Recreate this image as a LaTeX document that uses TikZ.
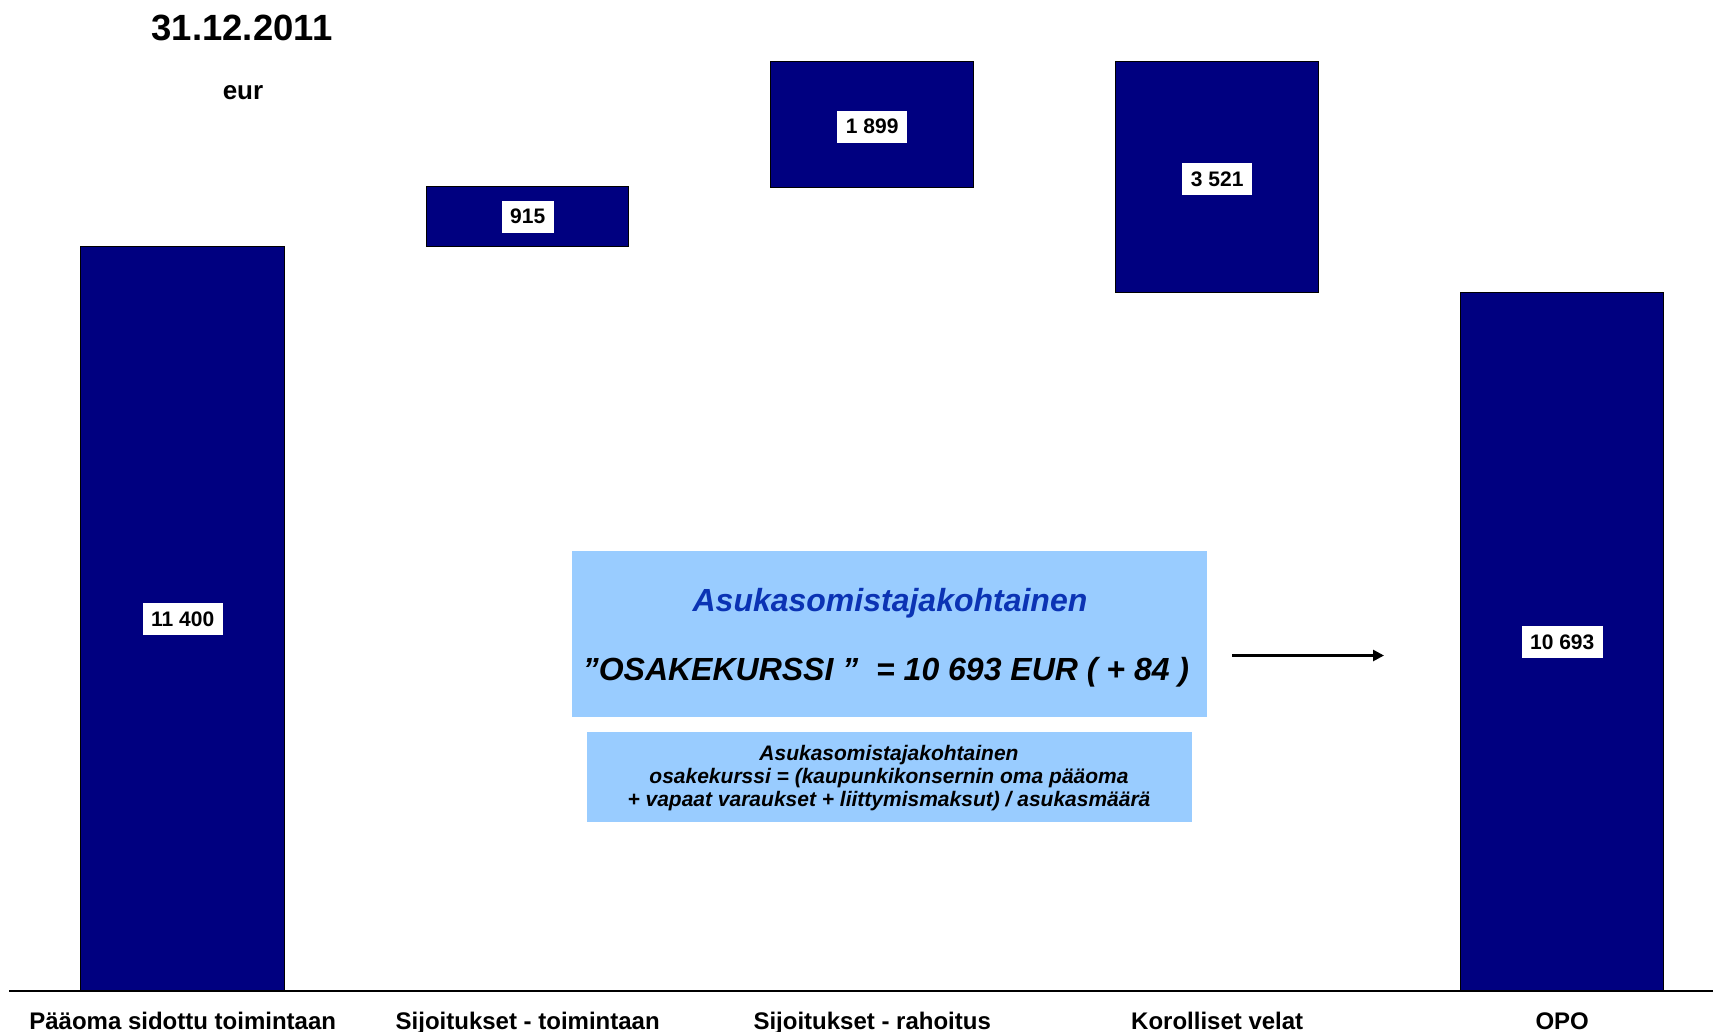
\documentclass[tikz,border=0pt]{standalone}
\usepackage{fontspec}
\setmainfont{Liberation Sans}
\usetikzlibrary{arrows.meta}
\definecolor{barblue}{HTML}{000080}
\definecolor{boxblue}{HTML}{99CCFF}
\definecolor{headblue}{HTML}{0B33B4}
\begin{document}
\begin{tikzpicture}[x=1pt,y=-1pt,
  bar/.style={draw=black, line width=1.4pt, fill=barblue, inner sep=0pt, anchor=north west},
  val/.style={fill=white, inner xsep=8.5pt, inner ysep=0pt, minimum height=32pt,
    font=\fontsize{21}{21}\bfseries\selectfont},
  cat/.style={anchor=base, font=\fontsize{24}{24}\bfseries\selectfont},
  infobox/.style={fill=boxblue, inner sep=0pt},
  bigtext/.style={anchor=base, font=\fontsize{32}{32}\bfseries\itshape\selectfont},
  smalltext/.style={align=center, inner sep=0pt, font=\fontsize{21}{23}\bfseries\itshape\selectfont}]
\useasboundingbox[fill=white] (0,0) rectangle (1713,1032);

% title
\node[font=\fontsize{36.5}{36.5}\bfseries\selectfont] (title) at (242,28) {31.12.2011};
\node[anchor=base, font=\fontsize{26}{26}\bfseries\selectfont] (unit) at (243,100) {eur};

% bars
\node[bar, minimum width=204pt, minimum height=745pt] (b1) at (80,246) {};
\node[bar, minimum width=202pt, minimum height=60pt]  (b2) at (426,186) {};
\node[bar, minimum width=203pt, minimum height=126pt] (b3) at (770,61) {};
\node[bar, minimum width=203pt, minimum height=231pt] (b4) at (1115,61) {};
\node[bar, minimum width=203pt, minimum height=699pt] (b5) at (1460,292) {};

% values
\node[val] (v1) at (b1.center) {11 400};
\node[val] (v2) at (b2.center) {915};
\node[val] (v3) at ([yshift=-2pt]b3.center) {1 899};
\node[val] (v4) at ([yshift=-2pt]b4.center) {3 521};
\node[val] (v5) at (b5.center) {10 693};

% baseline
\coordinate (l1) at (9,991);
\coordinate (l2) at (1713,991);
\draw[line width=1.4pt] (l1) -- (l2);

% categories
\node[cat] (c1) at ([yshift=-37pt]b1.south) {Pääoma sidottu toimintaan};
\node[cat] (c2) at ([yshift=-37pt]b2.south |- b1.south) {Sijoitukset - toimintaan};
\node[cat] (c3) at ([yshift=-37pt]b3.south |- b1.south) {Sijoitukset - rahoitus};
\node[cat] (c4) at ([yshift=-37pt]b4.south |- b1.south) {Korolliset velat};
\node[cat] (c5) at ([yshift=-37pt]b5.south) {OPO};

% info boxes
\node[infobox, minimum width=635pt, minimum height=166pt] (kb) at (889.5,634) {};
\node[bigtext, text=headblue] (k1) at (890,611) {Asukasomistajakohtainen};
\node[bigtext] (k2) at (886,680) {”OSAKEKURSSI ”\ \ = 10 693 EUR ( + 84 )};

\node[infobox, minimum width=605pt, minimum height=90pt] (sb) at (889.5,777) {};
\node[smalltext] (s1) at (889,778) {Asukasomistajakohtainen\\osakekurssi = (kaupunkikonsernin oma pääoma\\+ vapaat varaukset + liittymismaksut) / asukasmäärä};

% arrow
\coordinate (a1) at (1232,655.5);
\coordinate (a2) at (1384,655.5);
\draw[line width=2.6pt, -{Triangle[length=11pt,width=11pt]}] (a1) -- (a2);
\end{tikzpicture}
\end{document}
